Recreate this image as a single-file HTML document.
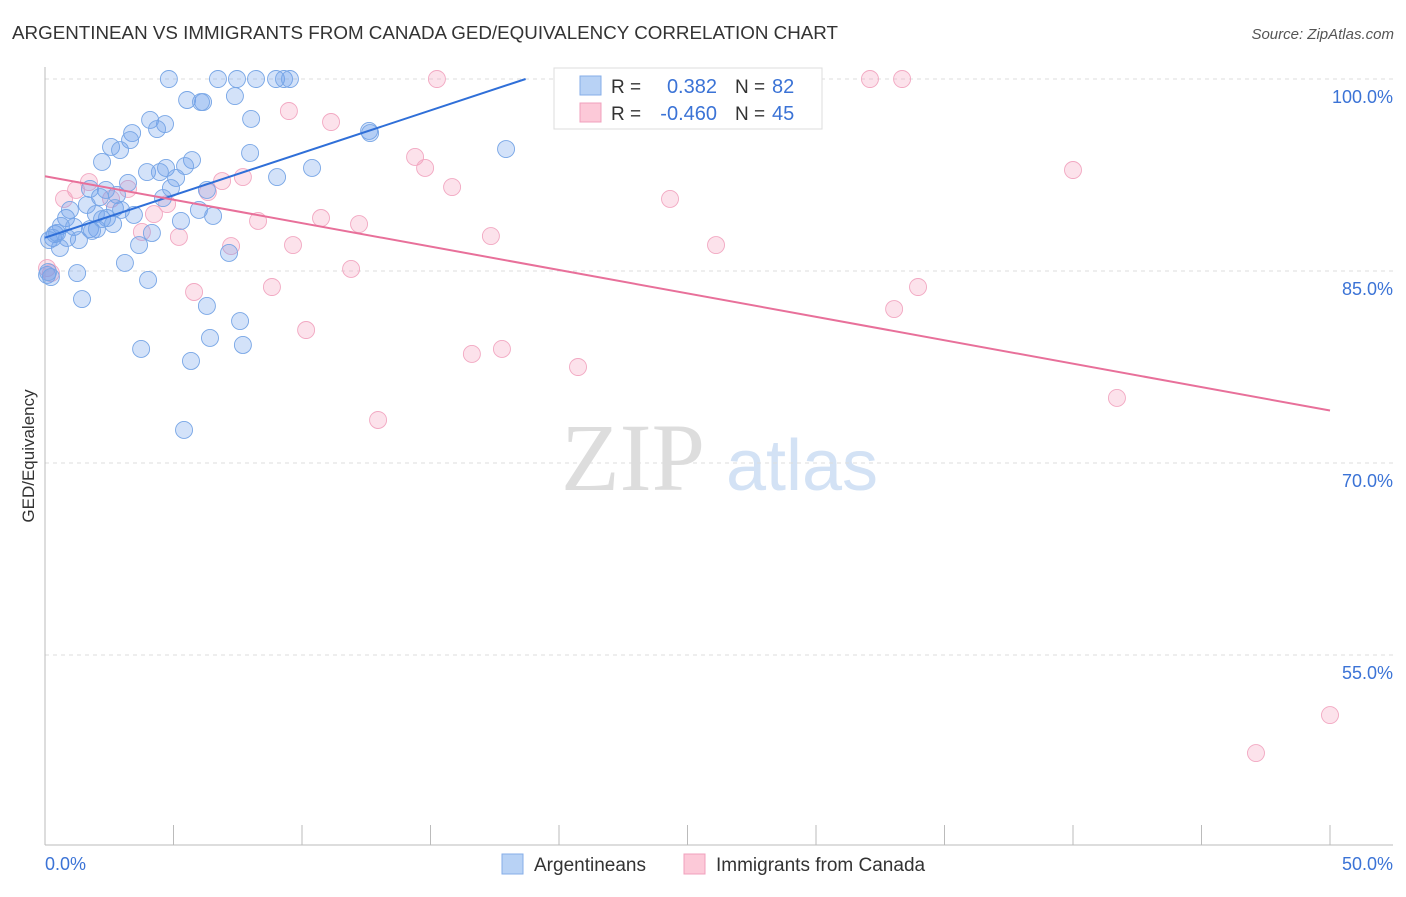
<!DOCTYPE html>
<html><head><meta charset="utf-8">
<style>
body{margin:0;background:#fff;font-family:"Liberation Sans",sans-serif;}
svg text{font-family:"Liberation Sans",sans-serif;}
</style></head>
<body>
<svg id="chart" width="1406" height="892">
<text x="12" y="39" font-size="18" fill="#333" textLength="826" lengthAdjust="spacingAndGlyphs">ARGENTINEAN VS IMMIGRANTS FROM CANADA GED/EQUIVALENCY CORRELATION CHART</text>
<text x="1394" y="39" font-size="15" fill="#555" font-style="italic" text-anchor="end">Source: ZipAtlas.com</text>
<text x="0" y="0" transform="translate(34,456) rotate(-90)" font-size="17" fill="#333" text-anchor="middle">GED/Equivalency</text>
<g>
<text x="633" y="490" font-size="96" fill="#ddd" text-anchor="middle" font-family="Liberation Serif" style="font-family:'Liberation Serif',serif">ZIP</text>
<text x="802" y="490" font-size="72" fill="#d3e2f5" text-anchor="middle">atlas</text>
</g>
<g id="grid"></g><g id="axes"></g><g id="pts"></g><g id="trend"></g>
<g>
<rect x="554" y="68" width="268" height="61" fill="#fff" stroke="#ddd"/>
<rect x="580" y="76" width="21" height="19" fill="#b8d2f5" stroke="#86aee8"/>
<rect x="580" y="103" width="21" height="19" fill="#fcc9d8" stroke="#f0a0bd"/>
<text x="611" y="93" font-size="19" fill="#333">R =</text>
<text x="717" y="93" font-size="20" fill="#3b73d6" text-anchor="end">0.382</text>
<text x="735" y="93" font-size="19" fill="#333">N =</text>
<text x="772" y="93" font-size="20" fill="#3b73d6">82</text>
<text x="611" y="120" font-size="19" fill="#333">R =</text>
<text x="717" y="120" font-size="20" fill="#3b73d6" text-anchor="end">-0.460</text>
<text x="735" y="120" font-size="19" fill="#333">N =</text>
<text x="772" y="120" font-size="20" fill="#3b73d6">45</text>
</g>
<g>
<rect x="502" y="854" width="21" height="20" fill="#b8d2f5" stroke="#86aee8"/>
<text x="534" y="871" font-size="19" fill="#333">Argentineans</text>
<rect x="684" y="854" width="21" height="20" fill="#fcc9d8" stroke="#f0a0bd"/>
<text x="716" y="871" font-size="19" fill="#333">Immigrants from Canada</text>
</g>
</svg>
<script>
const yTicks=[100,85,70,55];
const yTickLabels=["100.0%","85.0%","70.0%","55.0%"];
const xTickLabels=["0.0%","50.0%"];
const blueX=[4.82,6.73,7.47,8.21,8.99,9.30,9.53,5.53,6.15,6.07,7.39,8.02,4.09,4.67,3.39,4.36,3.31,2.57,2.92,2.22,5.72,4.71,3.97,4.47,5.45,5.10,3.23,7.98,9.03,10.39,12.61,12.65,17.94,6.30,4.59,1.75,2.37,2.80,2.14,1.63,0.97,2.72,3.46,5.99,6.54,5.29,1.98,2.41,0.82,0.62,1.13,2.65,1.75,2.02,0.39,0.31,0.86,1.32,4.16,3.66,7.16,3.11,1.25,0.08,0.23,4.01,1.44,6.30,7.59,6.42,7.70,3.74,5.68,5.41,0.58,0.16,1.83,0.47,0.12,2.22,2.96,4.90];
const blueY=[100,100,100,100,100,100,100,98.36,98.2,98.2,98.67,96.88,96.8,96.48,95.78,96.09,95.23,94.69,94.45,93.52,93.67,93.05,92.73,92.73,93.2,92.27,91.88,94.22,92.34,93.05,95.94,95.78,94.53,91.33,90.7,91.41,91.33,90.94,90.78,90.16,89.77,89.92,89.38,89.77,89.3,88.91,89.45,89.14,89.14,88.52,88.44,88.67,88.28,88.28,87.89,87.58,87.58,87.42,87.97,87.03,86.41,85.63,84.84,84.69,84.53,84.3,82.81,82.27,81.09,79.77,79.22,78.91,77.97,72.58,86.8,87.42,88.13,87.97,84.92,89.06,89.77,91.48];
const pinkX=[15.25,32.1,33.35,9.49,11.13,14.40,14.79,15.84,40.0,24.32,1.21,1.71,3.23,2.57,0.74,4.24,4.75,6.34,6.89,7.70,8.29,10.74,12.22,5.21,3.77,7.24,9.65,17.35,26.11,11.91,5.80,8.83,33.97,10.16,33.04,16.61,17.78,20.74,12.96,41.71,50.0,47.12,0.23,0.08];
const pinkY=[100,100,100,97.5,96.64,93.91,93.05,91.56,92.89,90.63,91.33,91.95,91.41,90.63,90.63,89.45,90.23,91.17,92.03,92.34,88.91,89.14,88.67,87.66,88.05,86.95,87.03,87.73,87.03,85.16,83.36,83.75,83.75,80.39,82.03,78.52,78.91,77.5,73.36,75.08,50.31,47.34,84.84,85.23];
const blueTrend=[0,87.6,18.7,100];
const pinkTrend=[0,92.4,50,74.1];
const X=v=>45+v*25.7;
const Y=v=>79+(100-v)*12.8;
const NS="http://www.w3.org/2000/svg";
function mk(tag,attrs,parent){const e=document.createElementNS(NS,tag);for(const k in attrs)e.setAttribute(k,attrs[k]);document.getElementById(parent).appendChild(e);return e;}
yTicks.forEach((t,i)=>{
 const l=mk('line',{x1:45,x2:1393,y1:Y(t),y2:Y(t),stroke:'#ddd','stroke-dasharray':'4,4'},'grid');
 
 
 const tx=mk('text',{x:1393,y:Y(t)+24,'font-size':18,fill:'#3b73d6','text-anchor':'end'},'grid');
 tx.textContent=yTickLabels[i];
 
 
});
let a=mk('line',{x1:45,x2:45,y1:67,y2:845,stroke:'#bbb'},'axes');


a=mk('line',{x1:45,x2:1393,y1:845,y2:845,stroke:'#bbb'},'axes');


for(let v=0;v<=50;v+=5){
 const t=mk('line',{x1:X(v),x2:X(v),y1:825,y2:845,stroke:'#bbb'},'axes');
 
 
}
[[45,'start'],[1393,'end']].forEach((p,i)=>{
 const t=mk('text',{x:p[0],y:870,'font-size':18,fill:'#3b73d6','text-anchor':p[1]},'axes');
 t.textContent=xTickLabels[i];
 
 
});
function dots(xs,ys,fill,stroke,name){
 xs.forEach((x,i)=>{
  const c=mk('circle',{cx:X(x),cy:Y(ys[i]),r:8.5,fill:fill,stroke:stroke,'stroke-width':0.9},'pts');
  
  
 });
}
dots(pinkX,pinkY,'rgba(245,160,190,0.3)','#f2a8c2','point-canada');
dots(blueX,blueY,'rgba(110,160,235,0.3)','#78a6e6','point-argentinean');
let tl=mk('line',{x1:X(blueTrend[0]),y1:Y(blueTrend[1]),x2:X(blueTrend[2]),y2:Y(blueTrend[3]),stroke:'#2f6fd8','stroke-width':2},'trend');


tl=mk('line',{x1:X(pinkTrend[0]),y1:Y(pinkTrend[1]),x2:X(pinkTrend[2]),y2:Y(pinkTrend[3]),stroke:'#e8709a','stroke-width':2},'trend');


</script>
</body></html>
